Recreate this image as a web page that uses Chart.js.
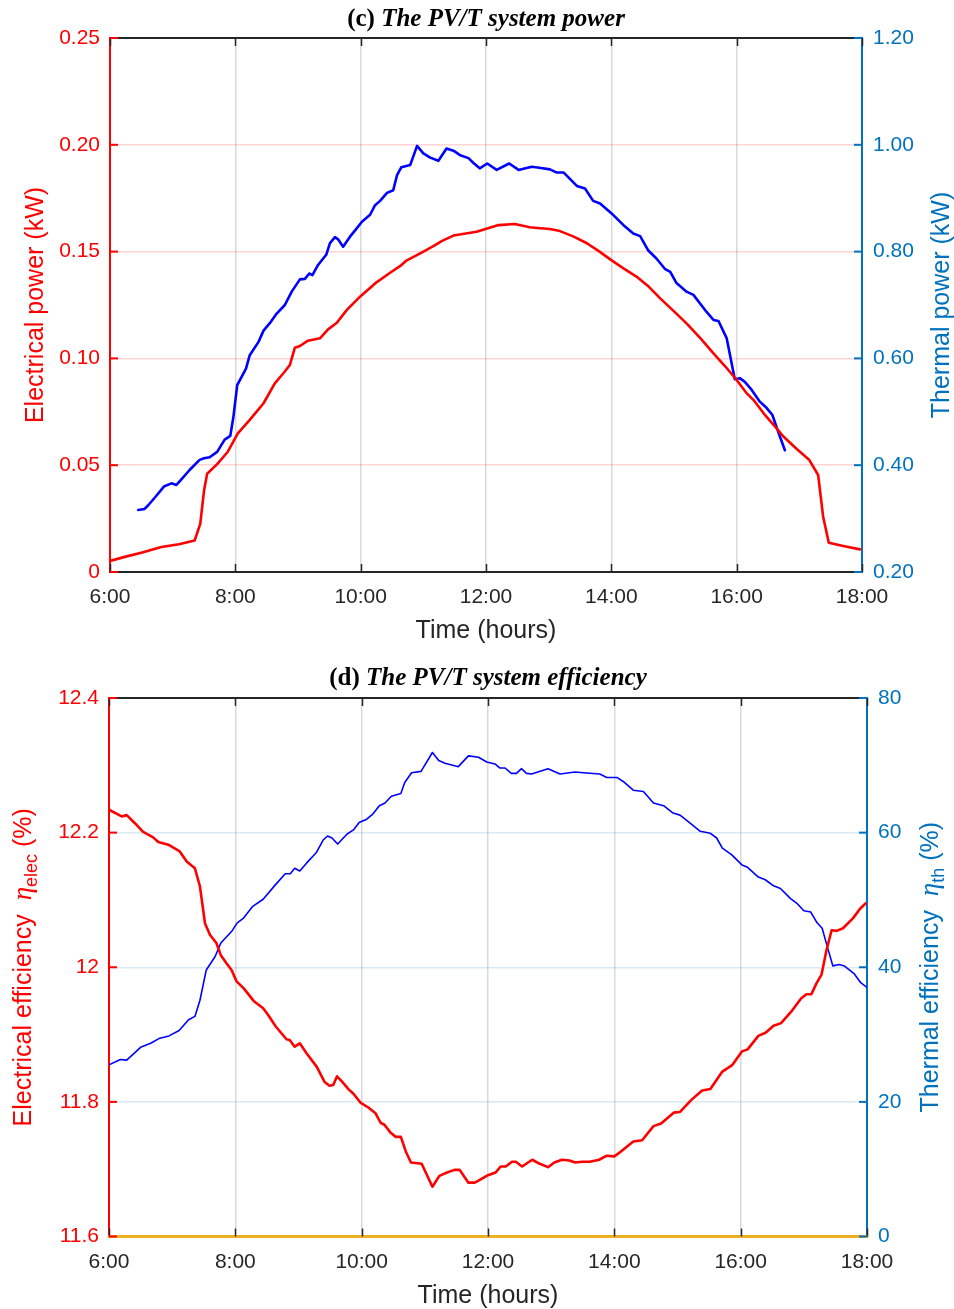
<!DOCTYPE html>
<html>
<head>
<meta charset="utf-8">
<script src="https://cdn.jsdelivr.net/npm/chart.js@4.4.1/dist/chart.umd.min.js"></script>
<style>
  html, body { margin: 0; padding: 0; background: #ffffff; }
  #wrap { position: relative; width: 954px; height: 1309px; overflow: hidden; }
  canvas { position: absolute; left: 0; }
</style>
</head>
<body>
<div id="wrap">
  <canvas id="powerChart" width="954" height="648" style="top:0px"></canvas>
  <canvas id="effChart" width="954" height="661" style="top:648px"></canvas>
</div>
<script>
// ---- axis ticks ----
const timeTickValues = [6, 8, 10, 12, 14, 16, 18];
const timeTickLabels = ['6:00', '8:00', '10:00', '12:00', '14:00', '16:00', '18:00'];

const powerElecTickValues = [0, 0.05, 0.10, 0.15, 0.20, 0.25];
const powerElecTickLabels = ['0', '0.05', '0.10', '0.15', '0.20', '0.25'];
const powerThermTickValues = [0.2, 0.4, 0.6, 0.8, 1.0, 1.2];
const powerThermTickLabels = ['0.20', '0.40', '0.60', '0.80', '1.00', '1.20'];

const effElecTickValues = [11.6, 11.8, 12.0, 12.2, 12.4];
const effElecTickLabels = ['11.6', '11.8', '12', '12.2', '12.4'];
const effThermTickValues = [0, 20, 40, 60, 80];
const effThermTickLabels = ['0', '20', '40', '60', '80'];

// ---- (c) electrical power, kW ----
const elecPowerTime = [6.00, 6.25, 6.50, 6.82, 7.10, 7.35, 7.44, 7.50, 7.55, 7.71, 7.88, 8.04, 8.23, 8.36, 8.45, 8.63, 8.78, 8.87, 8.95, 9.03,
  9.16, 9.35, 9.48, 9.62, 9.78, 9.99, 10.23, 10.47, 10.65, 10.73, 10.95, 11.16, 11.30, 11.48, 11.85, 12.20, 12.46, 12.70, 12.78, 13.02,
  13.18, 13.40, 13.61, 13.80, 14.00, 14.20, 14.40, 14.60, 14.78, 15.00, 15.20, 15.42, 15.63, 15.82, 16.00, 16.15, 16.27, 16.43, 16.60, 16.75,
  16.95, 17.16, 17.30, 17.38, 17.47, 17.70, 17.97];
const elecPowerKW = [0.0052, 0.0072, 0.0090, 0.0117, 0.0130, 0.0147, 0.0225, 0.0380, 0.0460, 0.0505, 0.0563, 0.0649, 0.0712, 0.0758, 0.0790, 0.0883, 0.0935, 0.0969, 0.1050, 0.1058,
  0.1083, 0.1094, 0.1136, 0.1167, 0.1227, 0.1289, 0.1351, 0.1401, 0.1437, 0.1458, 0.1492, 0.1526, 0.1550, 0.1575, 0.1593, 0.1624, 0.1629, 0.1614, 0.1612, 0.1606,
  0.1596, 0.1570, 0.1539, 0.1502, 0.1460, 0.1420, 0.1383, 0.1335, 0.1281, 0.1220, 0.1164, 0.1095, 0.1024, 0.0962, 0.0899, 0.0840, 0.0805, 0.0743, 0.0685, 0.0633,
  0.0578, 0.0524, 0.0454, 0.0259, 0.0137, 0.0122, 0.0106];

// ---- (c) thermal power, kW ----
const thermPowerTime = [6.45, 6.55, 6.61, 6.72, 6.86, 6.98, 7.06, 7.15, 7.27, 7.43, 7.50, 7.59, 7.71, 7.83, 7.92, 7.97, 8.03, 8.17, 8.23, 8.37,
  8.45, 8.55, 8.66, 8.79, 8.90, 9.03, 9.11, 9.18, 9.23, 9.32, 9.45, 9.51, 9.59, 9.64, 9.72, 9.83, 9.94, 10.02, 10.15, 10.23,
  10.31, 10.42, 10.52, 10.58, 10.65, 10.79, 10.90, 11.00, 11.11, 11.24, 11.37, 11.48, 11.58, 11.72, 11.80, 11.90, 12.02, 12.17, 12.37, 12.52,
  12.73, 12.85, 13.02, 13.13, 13.24, 13.45, 13.58, 13.71, 13.82, 14.00, 14.19, 14.35, 14.46, 14.59, 14.72, 14.86, 14.94, 15.04, 15.20, 15.31,
  15.52, 15.63, 15.71, 15.84, 15.97, 16.05, 16.13, 16.24, 16.37, 16.48, 16.57, 16.67, 16.77];
const thermPowerKW = [0.316, 0.318, 0.325, 0.340, 0.360, 0.366, 0.363, 0.375, 0.391, 0.410, 0.413, 0.415, 0.425, 0.448, 0.455, 0.491, 0.550, 0.581, 0.606, 0.631,
  0.652, 0.666, 0.684, 0.700, 0.725, 0.748, 0.749, 0.759, 0.756, 0.775, 0.794, 0.816, 0.827, 0.823, 0.809, 0.828, 0.844, 0.856, 0.869, 0.887,
  0.895, 0.910, 0.915, 0.943, 0.958, 0.962, 0.998, 0.984, 0.976, 0.970, 0.993, 0.989, 0.981, 0.975, 0.966, 0.956, 0.965, 0.953, 0.965, 0.953,
  0.959, 0.957, 0.954, 0.948, 0.948, 0.923, 0.918, 0.895, 0.890, 0.872, 0.850, 0.834, 0.829, 0.802, 0.787, 0.767, 0.762, 0.741, 0.725, 0.719,
  0.687, 0.672, 0.670, 0.638, 0.561, 0.563, 0.556, 0.541, 0.519, 0.507, 0.494, 0.460, 0.428];

// ---- (d) electrical efficiency, % ----
const elecEffTime = [6.00, 6.20, 6.28, 6.41, 6.54, 6.70, 6.78, 6.94, 7.12, 7.23, 7.36, 7.44, 7.52, 7.60, 7.70, 7.77, 7.86, 7.94, 8.02, 8.13,
  8.29, 8.44, 8.52, 8.64, 8.81, 8.86, 8.94, 9.02, 9.13, 9.29, 9.41, 9.49, 9.55, 9.61, 9.69, 9.79, 9.87, 9.98, 10.10, 10.22,
  10.30, 10.36, 10.46, 10.54, 10.62, 10.70, 10.78, 10.95, 11.12, 11.23, 11.35, 11.47, 11.55, 11.69, 11.79, 11.87, 12.00, 12.12, 12.20, 12.28,
  12.38, 12.44, 12.54, 12.70, 12.82, 12.95, 13.05, 13.17, 13.29, 13.38, 13.49, 13.61, 13.76, 13.88, 14.00, 14.10, 14.30, 14.44, 14.62, 14.74,
  14.94, 15.04, 15.22, 15.39, 15.52, 15.71, 15.87, 16.02, 16.11, 16.28, 16.40, 16.52, 16.64, 16.80, 16.92, 16.96, 17.04, 17.12, 17.20, 17.28,
  17.36, 17.44, 17.52, 17.62, 17.78, 17.89, 17.98];
const elecEffPct = [12.234, 12.224, 12.226, 12.214, 12.201, 12.193, 12.186, 12.182, 12.172, 12.157, 12.147, 12.120, 12.065, 12.048, 12.036, 12.018, 12.006, 11.996, 11.979, 11.969,
  11.950, 11.939, 11.929, 11.912, 11.893, 11.892, 11.882, 11.887, 11.872, 11.852, 11.830, 11.824, 11.825, 11.838, 11.830, 11.819, 11.812, 11.799, 11.792, 11.783,
  11.769, 11.766, 11.754, 11.748, 11.748, 11.726, 11.710, 11.708, 11.674, 11.690, 11.695, 11.699, 11.699, 11.680, 11.680, 11.684, 11.691, 11.695, 11.704, 11.704,
  11.711, 11.711, 11.704, 11.714, 11.708, 11.703, 11.710, 11.714, 11.713, 11.710, 11.711, 11.711, 11.714, 11.720, 11.719, 11.726, 11.741, 11.743, 11.764, 11.768,
  11.784, 11.785, 11.803, 11.817, 11.819, 11.845, 11.855, 11.875, 11.878, 11.898, 11.903, 11.913, 11.917, 11.934, 11.949, 11.954, 11.960, 11.960, 11.976, 11.989,
  12.026, 12.055, 12.054, 12.058, 12.073, 12.087, 12.095];

// ---- (d) thermal efficiency, % ----
const thermEffTime = [6.00, 6.18, 6.28, 6.50, 6.66, 6.79, 6.95, 7.11, 7.26, 7.36, 7.44, 7.54, 7.68, 7.77, 7.94, 8.03, 8.13, 8.27, 8.44, 8.63,
  8.79, 8.87, 8.94, 9.02, 9.13, 9.28, 9.39, 9.46, 9.53, 9.62, 9.77, 9.87, 9.96, 10.08, 10.18, 10.28, 10.37, 10.47, 10.62, 10.68,
  10.79, 10.94, 11.12, 11.22, 11.32, 11.53, 11.69, 11.85, 11.98, 12.11, 12.19, 12.27, 12.37, 12.45, 12.53, 12.61, 12.69, 12.95, 13.14, 13.38,
  13.51, 13.77, 13.88, 14.04, 14.14, 14.30, 14.46, 14.62, 14.78, 14.93, 15.04, 15.20, 15.36, 15.52, 15.62, 15.71, 15.86, 16.02, 16.10, 16.28,
  16.39, 16.52, 16.63, 16.79, 16.89, 17.00, 17.11, 17.21, 17.29, 17.37, 17.46, 17.56, 17.64, 17.80, 17.90, 18.00];
const thermEffPct = [25.5, 26.3, 26.2, 28.1, 28.7, 29.4, 29.8, 30.6, 32.2, 32.7, 35.1, 39.6, 41.6, 43.6, 45.3, 46.6, 47.3, 49.0, 50.1, 52.2,
  53.9, 53.9, 54.7, 54.3, 55.5, 57.0, 58.9, 59.5, 59.2, 58.3, 59.8, 60.4, 61.5, 62.0, 62.8, 64.0, 64.4, 65.4, 65.8, 67.4,
  68.9, 69.1, 71.9, 70.7, 70.3, 69.8, 71.4, 71.2, 70.5, 70.2, 69.6, 69.6, 68.8, 68.8, 69.5, 68.8, 68.7, 69.5, 68.7, 69.0,
  68.9, 68.7, 68.2, 68.2, 67.6, 66.3, 66.1, 64.4, 64.0, 62.9, 62.6, 61.4, 60.2, 59.9, 59.2, 57.7, 56.7, 55.2, 54.9, 53.4,
  53.0, 52.1, 51.7, 50.2, 49.5, 48.4, 48.2, 46.6, 45.8, 43.1, 40.2, 40.4, 40.2, 39.0, 37.7, 37.0];

// zero reference line along the bottom of the efficiency plot
const baselineTime = [6, 18];
const baselinePct = [0, 0];

// ---- styling ----
const RED = '#FF0000';
const AXIS_BLUE = '#0072BD';
const LINE_BLUE = '#0000FF';
const DARK = '#262626';
const SANS = '"Liberation Sans", Arial, Helvetica, sans-serif';
const SERIF = '"Liberation Serif", "Times New Roman", serif';

function pairs(xs, ys) {
  return xs.map((x, i) => ({ x: x, y: ys[i] }));
}

// Draws a run of differently styled text pieces centred on (x, y), optionally rotated
function drawSegments(ctx, segs, x, y, angle) {
  ctx.save();
  ctx.translate(x, y);
  ctx.rotate(angle);
  const widths = [];
  let total = 0;
  segs.forEach(s => { ctx.font = s.font; const w = ctx.measureText(s.text).width; widths.push(w); total += w; });
  let cx = -total / 2;
  ctx.textBaseline = 'alphabetic';
  ctx.textAlign = 'left';
  segs.forEach((s, i) => {
    ctx.font = s.font;
    ctx.fillStyle = s.color;
    ctx.fillText(s.text, cx, s.shift || 0);
    cx += widths[i];
  });
  ctx.restore();
}

// Box outline, inward tick marks and all titles
function framePlugin(o) {
  return {
    id: 'frame',
    afterDraw(chart) {
      const ctx = chart.ctx;
      const a = chart.chartArea;
      const sx = chart.scales.x, yl = chart.scales.yL, yr = chart.scales.yR;
      const TL = 8;
      ctx.save();
      ctx.lineCap = 'butt';
      // top edge
      ctx.strokeStyle = DARK;
      ctx.lineWidth = 2;
      ctx.beginPath();
      ctx.moveTo(a.left, a.top);
      ctx.lineTo(a.right, a.top);
      ctx.stroke();
      // x ticks, bottom and top, pointing inward
      ctx.lineWidth = 1.5;
      sx.ticks.forEach(t => {
        const px = Math.round(sx.getPixelForValue(t.value)) + 0.5;
        ctx.beginPath();
        ctx.moveTo(px, a.bottom); ctx.lineTo(px, a.bottom - TL);
        ctx.moveTo(px, a.top); ctx.lineTo(px, a.top + TL);
        ctx.stroke();
      });
      // left y ticks
      ctx.strokeStyle = o.leftColor;
      ctx.lineWidth = 2;
      yl.ticks.forEach(t => {
        const py = yl.getPixelForValue(t.value);
        ctx.beginPath(); ctx.moveTo(a.left, py); ctx.lineTo(a.left + TL, py); ctx.stroke();
      });
      // right y ticks
      ctx.strokeStyle = o.rightColor;
      yr.ticks.forEach(t => {
        const py = yr.getPixelForValue(t.value);
        ctx.beginPath(); ctx.moveTo(a.right, py); ctx.lineTo(a.right - TL, py); ctx.stroke();
      });
      ctx.restore();

      const midX = (a.left + a.right) / 2;
      const midY = (a.top + a.bottom) / 2;
      drawSegments(ctx, o.title, midX, o.titleY, 0);
      drawSegments(ctx, o.xTitle, midX, o.xTitleY, 0);
      drawSegments(ctx, o.leftTitle, o.leftTitleX, midY, -Math.PI / 2);
      drawSegments(ctx, o.rightTitle, o.rightTitleX, midY, -Math.PI / 2);
    }
  };
}

function makeChart(id, cfg) {
  const el = document.getElementById(id);
  const W = el.width, H = el.height;
  const box = cfg.box;
  const tickFont = { family: SANS, size: 21 };
  return new Chart(el, {
    type: 'line',
    data: { datasets: cfg.datasets },
    options: {
      responsive: false,
      animation: false,
      devicePixelRatio: 1,
      layout: { padding: { top: box.top, left: 0, right: 0, bottom: 0 } },
      elements: { point: { radius: 0 }, line: { tension: 0, borderJoinStyle: 'round', borderCapStyle: 'round' } },
      plugins: { legend: { display: false }, tooltip: { enabled: false } },
      scales: {
        x: {
          type: 'linear', position: 'bottom', min: 6, max: 18,
          afterBuildTicks: s => { s.ticks = timeTickValues.map(v => ({ value: v })); },
          afterFit: s => { s.height = H - box.bottom; },
          ticks: { callback: (v, i) => timeTickLabels[i], color: DARK, font: tickFont, padding: 13, maxRotation: 0, autoSkip: false },
          grid: { color: 'rgba(0,0,0,0.15)', lineWidth: 1.5, drawTicks: false },
          border: { color: DARK, width: 2 }
        },
        yL: {
          type: 'linear', position: 'left', min: cfg.left.values[0], max: cfg.left.values[cfg.left.values.length - 1],
          afterBuildTicks: s => { s.ticks = cfg.left.values.map(v => ({ value: v })); },
          afterFit: s => { s.width = box.left; },
          ticks: { callback: (v, i) => cfg.left.labels[i], color: cfg.frame.leftColor, font: tickFont, padding: 10 },
          grid: { color: cfg.gridColor, lineWidth: 1.5, drawTicks: false },
          border: { color: cfg.frame.leftColor, width: 2 }
        },
        yR: {
          type: 'linear', position: 'right', min: cfg.right.values[0], max: cfg.right.values[cfg.right.values.length - 1],
          afterBuildTicks: s => { s.ticks = cfg.right.values.map(v => ({ value: v })); },
          afterFit: s => { s.width = W - box.right; },
          ticks: { callback: (v, i) => cfg.right.labels[i], color: cfg.frame.rightColor, font: tickFont, padding: 11 },
          grid: { color: 'rgba(0,0,0,0)', drawTicks: false },
          border: { color: cfg.frame.rightColor, width: 2 }
        }
      }
    },
    plugins: [framePlugin(cfg.frame)]
  });
}

const titleBold = 'bold 25px ' + SERIF;
const titleBoldItalic = 'italic bold 25px ' + SERIF;
const axisFont = '25px ' + SANS;

// (c) The PV/T system power
makeChart('powerChart', {
  box: { left: 110, right: 862, top: 38, bottom: 572 },
  gridColor: 'rgba(255,0,0,0.17)',
  left: { values: powerElecTickValues, labels: powerElecTickLabels },
  right: { values: powerThermTickValues, labels: powerThermTickLabels },
  datasets: [
    { label: 'Electrical power', data: pairs(elecPowerTime, elecPowerKW), yAxisID: 'yL', borderColor: RED, borderWidth: 2.6, order: 0 },
    { label: 'Thermal power', data: pairs(thermPowerTime, thermPowerKW), yAxisID: 'yR', borderColor: LINE_BLUE, borderWidth: 2.6, order: 1 }
  ],
  frame: {
    leftColor: RED, rightColor: AXIS_BLUE,
    title: [{ text: '(c) ', font: titleBold, color: '#000' }, { text: 'The PV/T system power', font: titleBoldItalic, color: '#000' }],
    titleY: 26,
    xTitle: [{ text: 'Time (hours)', font: axisFont, color: DARK }],
    xTitleY: 638,
    leftTitle: [{ text: 'Electrical power (kW)', font: axisFont, color: RED }],
    leftTitleX: 43,
    rightTitle: [{ text: 'Thermal power (kW)', font: axisFont, color: AXIS_BLUE }],
    rightTitleX: 949
  }
});

// (d) The PV/T system efficiency
makeChart('effChart', {
  box: { left: 109, right: 867, top: 50, bottom: 588.5 },
  gridColor: 'rgba(0,114,189,0.15)',
  left: { values: effElecTickValues, labels: effElecTickLabels },
  right: { values: effThermTickValues, labels: effThermTickLabels },
  datasets: [
    { label: 'Electrical efficiency', data: pairs(elecEffTime, elecEffPct), yAxisID: 'yL', borderColor: RED, borderWidth: 2.6, order: 0 },
    { label: 'Thermal efficiency', data: pairs(thermEffTime, thermEffPct), yAxisID: 'yR', borderColor: LINE_BLUE, borderWidth: 1.6, order: 1 },
    { label: 'Zero line', data: pairs(baselineTime, baselinePct), yAxisID: 'yR', borderColor: '#EDB120', borderWidth: 3, clip: false, order: 2 }
  ],
  frame: {
    leftColor: RED, rightColor: AXIS_BLUE,
    title: [{ text: '(d) ', font: titleBold, color: '#000' }, { text: 'The PV/T system efficiency', font: titleBoldItalic, color: '#000' }],
    titleY: 37,
    xTitle: [{ text: 'Time (hours)', font: axisFont, color: DARK }],
    xTitleY: 655,
    leftTitle: [
      { text: 'Electrical efficiency  ', font: axisFont, color: RED },
      { text: '\u03B7', font: 'italic 27px ' + SERIF, color: RED },
      { text: 'elec', font: '18px ' + SANS, color: RED, shift: 6 },
      { text: ' (%)', font: axisFont, color: RED }
    ],
    leftTitleX: 31,
    rightTitle: [
      { text: 'Thermal efficiency  ', font: axisFont, color: AXIS_BLUE },
      { text: '\u03B7', font: 'italic 27px ' + SERIF, color: AXIS_BLUE },
      { text: 'th', font: '18px ' + SANS, color: AXIS_BLUE, shift: 6 },
      { text: ' (%)', font: axisFont, color: AXIS_BLUE }
    ],
    rightTitleX: 938
  }
});
</script>
</body>
</html>
